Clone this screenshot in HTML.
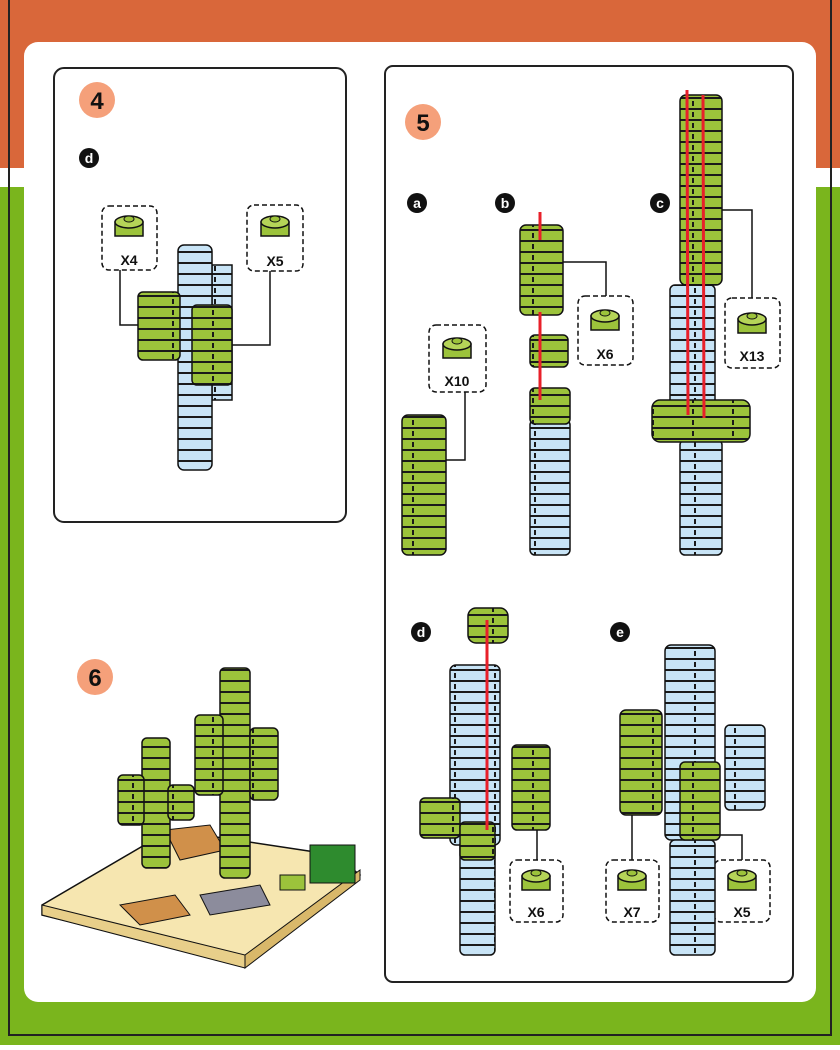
<!DOCTYPE html>
<html><head><meta charset="utf-8"><style>
body{margin:0;width:840px;height:1045px;overflow:hidden;font-family:"Liberation Sans",sans-serif}
</style></head><body>
<svg width="840" height="1045" viewBox="0 0 840 1045" xmlns="http://www.w3.org/2000/svg" font-family="Liberation Sans, sans-serif">
<defs>
<pattern id="g" width="40" height="11" patternUnits="userSpaceOnUse"><rect width="40" height="11" fill="#9cc33b"/><rect y="9" width="40" height="2" fill="#1a1a1a"/><rect x="12" y="2" width="2" height="5" fill="#1a1a1a"/></pattern>
<pattern id="b" width="40" height="11" patternUnits="userSpaceOnUse"><rect width="40" height="11" fill="#c8e4f6"/><rect y="9" width="40" height="2" fill="#1a1a1a"/><rect x="14" y="2" width="2" height="5" fill="#1a1a1a"/></pattern>
<g id="knob"><rect x="-14" y="-6" width="28" height="14" fill="#9cc33b" stroke="#111" stroke-width="1.5"/><ellipse cx="0" cy="-6" rx="14" ry="6" fill="#b5d458" stroke="#111" stroke-width="1.5"/><ellipse cx="0" cy="-9" rx="5" ry="3" fill="#9cc33b" stroke="#111"/></g>
</defs>
<rect width="840" height="168" fill="#d9673a"/>
<rect y="168" width="840" height="19" fill="#fff"/>
<rect y="187" width="840" height="858" fill="#7ab51d"/>
<rect x="9" y="-5" width="822" height="1040" fill="none" stroke="#222" stroke-width="2"/>
<rect x="24" y="42" width="792" height="960" rx="14" fill="#fff"/>
<rect x="54" y="68" width="292" height="454" rx="10" fill="none" stroke="#222" stroke-width="2"/>
<rect x="385" y="66" width="408" height="916" rx="8" fill="none" stroke="#222" stroke-width="2"/>
<g font-weight="bold" font-size="24" text-anchor="middle" fill="#111">
<circle cx="97" cy="100" r="18" fill="#f5a07a"/><text x="97" y="109">4</text>
<circle cx="423" cy="122" r="18" fill="#f5a07a"/><text x="423" y="131">5</text>
<circle cx="95" cy="677" r="18" fill="#f5a07a"/><text x="95" y="686">6</text>
</g>
<g font-weight="bold" font-size="14" text-anchor="middle" fill="#fff">
<circle cx="89" cy="158" r="10" fill="#111"/><text x="89" y="163">d</text>
<circle cx="417" cy="203" r="10" fill="#111"/><text x="417" y="208">a</text>
<circle cx="505" cy="203" r="10" fill="#111"/><text x="505" y="208">b</text>
<circle cx="660" cy="203" r="10" fill="#111"/><text x="660" y="208">c</text>
<circle cx="421" cy="632" r="10" fill="#111"/><text x="421" y="637">d</text>
<circle cx="620" cy="632" r="10" fill="#111"/><text x="620" y="637">e</text>
</g>
<!-- connector lines -->
<g stroke="#111" stroke-width="1.5" fill="none">
<polyline points="120,270 120,325 140,325"/>
<polyline points="270,271 270,345 232,345"/>
<polyline points="465,392 465,460 446,460"/>
<polyline points="563,262 606,262 606,296"/>
<polyline points="722,210 752,210 752,298"/>
<polyline points="537,860 537,810 550,810"/>
<polyline points="632,860 632,815"/>
<polyline points="742,860 742,835 720,835"/>
</g>
<!-- dashed boxes -->
<g fill="#fff" stroke="#111" stroke-width="1.5" stroke-dasharray="5,3">
<rect x="102" y="206" width="55" height="64" rx="7"/>
<rect x="247" y="205" width="56" height="66" rx="7"/>
<rect x="429" y="325" width="57" height="67" rx="7"/>
<rect x="578" y="296" width="55" height="69" rx="7"/>
<rect x="725" y="298" width="55" height="70" rx="7"/>
<rect x="510" y="860" width="53" height="62" rx="7"/>
<rect x="606" y="860" width="53" height="62" rx="7"/>
<rect x="714" y="860" width="56" height="62" rx="7"/>
</g>
<use href="#knob" x="129" y="228"/><use href="#knob" x="275" y="228"/><use href="#knob" x="457" y="350"/>
<use href="#knob" x="605" y="322"/><use href="#knob" x="752" y="325"/><use href="#knob" x="536" y="882"/>
<use href="#knob" x="632" y="882"/><use href="#knob" x="742" y="882"/>
<g font-weight="bold" font-size="14" text-anchor="middle" fill="#111">
<text x="129" y="265">X4</text><text x="275" y="266">X5</text><text x="457" y="386">X10</text>
<text x="605" y="359">X6</text><text x="752" y="361">X13</text><text x="536" y="917">X6</text>
<text x="632" y="917">X7</text><text x="742" y="917">X5</text>
</g>
<!-- stacks -->
<g stroke="#111" stroke-width="1.5">
<!-- panel 4 -->
<rect x="212" y="265" width="20" height="135" fill="url(#b)"/>
<rect x="178" y="245" width="34" height="225" rx="6" fill="url(#b)"/>
<rect x="138" y="292" width="42" height="68" rx="5" fill="url(#g)"/>
<rect x="192" y="305" width="40" height="80" rx="5" fill="url(#g)"/>
<!-- 5a -->
<rect x="402" y="415" width="44" height="140" rx="6" fill="url(#g)"/>
<!-- 5b -->
<rect x="520" y="225" width="43" height="90" rx="6" fill="url(#g)"/>
<rect x="530" y="335" width="38" height="32" rx="5" fill="url(#g)"/>
<rect x="530" y="420" width="40" height="135" rx="5" fill="url(#b)"/>
<rect x="530" y="388" width="40" height="36" rx="5" fill="url(#g)"/>
<!-- 5c -->
<rect x="680" y="95" width="42" height="190" rx="6" fill="url(#g)"/>
<rect x="670" y="285" width="45" height="125" rx="5" fill="url(#b)"/>
<rect x="680" y="440" width="42" height="115" rx="5" fill="url(#b)"/>
<rect x="652" y="400" width="98" height="42" rx="8" fill="url(#g)"/>
<!-- 5d -->
<rect x="468" y="608" width="40" height="35" rx="8" fill="url(#g)"/>
<rect x="450" y="665" width="50" height="180" rx="6" fill="url(#b)"/>
<rect x="512" y="745" width="38" height="85" rx="5" fill="url(#g)"/>
<rect x="420" y="798" width="40" height="40" rx="5" fill="url(#g)"/>
<rect x="460" y="840" width="35" height="115" rx="5" fill="url(#b)"/>
<rect x="460" y="822" width="35" height="38" rx="5" fill="url(#g)"/>
<!-- 5e -->
<rect x="665" y="645" width="50" height="195" rx="6" fill="url(#b)"/>
<rect x="725" y="725" width="40" height="85" rx="5" fill="url(#b)"/>
<rect x="670" y="840" width="45" height="115" rx="5" fill="url(#b)"/>
<rect x="620" y="710" width="42" height="105" rx="6" fill="url(#g)"/>
<rect x="680" y="762" width="40" height="78" rx="5" fill="url(#g)"/>
</g>
<g stroke="#e8202a" stroke-width="3">
<line x1="540" y1="212" x2="540" y2="240"/><line x1="540" y1="312" x2="540" y2="400"/>
<line x1="687" y1="90" x2="688" y2="415"/><line x1="703" y1="95" x2="704" y2="418"/>
<line x1="487" y1="620" x2="487" y2="830"/>
</g>
<!-- scene 6 -->
<polygon points="42,905 170,830 335,855 360,875 245,965 42,915" fill="#f6e6b0" stroke="#111" stroke-width="1.5"/>
<polygon points="42,905 245,955 245,968 42,915" fill="#e8cf8a" stroke="#111"/>
<polygon points="245,955 360,870 360,880 245,968" fill="#d9b86a" stroke="#111"/>
<polygon points="165,830 210,825 225,850 180,860" fill="#d0904a" stroke="#111"/>
<polygon points="120,905 175,895 190,915 140,925" fill="#d0904a" stroke="#111"/>
<polygon points="200,895 260,885 270,905 210,915" fill="#8c8c9c" stroke="#111"/>
<rect x="310" y="845" width="45" height="38" fill="#2e8b2e" stroke="#111"/>
<rect x="280" y="875" width="25" height="15" fill="#9cc33b" stroke="#111"/>
<g stroke="#111" stroke-width="1.5">
<rect x="220" y="668" width="30" height="210" rx="5" fill="url(#g)"/>
<rect x="195" y="715" width="28" height="80" rx="5" fill="url(#g)"/>
<rect x="250" y="728" width="28" height="72" rx="5" fill="url(#g)"/>
<rect x="142" y="738" width="28" height="130" rx="5" fill="url(#g)"/>
<rect x="118" y="775" width="26" height="50" rx="5" fill="url(#g)"/>
<rect x="168" y="785" width="26" height="35" rx="5" fill="url(#g)"/>
</g>
</svg>
</body></html>
